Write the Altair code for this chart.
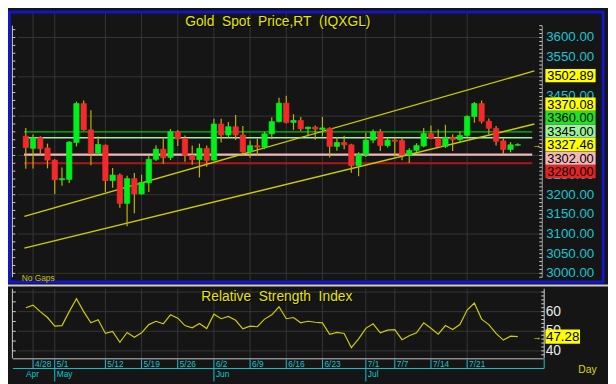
import altair as alt
import pandas as pd

# ------------------------------------------------------------------ data
opens = [3349, 3318, 3345, 3319, 3288, 3238, 3239, 3333, 3432, 3365,
         3306, 3326, 3236, 3250, 3178, 3241, 3202, 3230, 3290, 3316,
         3295, 3360, 3343, 3300, 3289, 3318, 3288, 3380, 3352, 3373,
         3352, 3309, 3325, 3321, 3355, 3386, 3433, 3384, 3389, 3368,
         3372, 3366, 3369, 3323, 3333, 3327, 3274, 3302, 3339, 3360,
         3325, 3339, 3338, 3301, 3313, 3324, 3356, 3343, 3323, 3346,
         3340, 3351, 3399, 3432, 3387, 3369, 3337, 3315, 3326]
highs = [3370, 3353, 3349, 3330, 3290, 3269, 3337, 3437, 3440, 3415,
         3348, 3328, 3268, 3254, 3248, 3255, 3251, 3300, 3326, 3343,
         3367, 3365, 3351, 3325, 3330, 3325, 3393, 3393, 3385, 3403,
         3375, 3338, 3343, 3360, 3397, 3447, 3452, 3405, 3398, 3373,
         3376, 3398, 3372, 3347, 3350, 3330, 3308, 3358, 3366, 3367,
         3344, 3345, 3346, 3318, 3331, 3370, 3376, 3366, 3378, 3354,
         3361, 3402, 3436, 3440, 3394, 3375, 3345, 3334, 3331]
lows = [3266, 3267, 3301, 3267, 3202, 3223, 3230, 3323, 3363, 3275,
        3302, 3207, 3218, 3167, 3120, 3153, 3200, 3207, 3286, 3279,
        3288, 3324, 3284, 3276, 3244, 3271, 3287, 3333, 3344, 3339,
        3303, 3294, 3300, 3316, 3341, 3384, 3381, 3365, 3362, 3348,
        3340, 3348, 3295, 3312, 3316, 3256, 3247, 3296, 3331, 3311,
        3320, 3297, 3288, 3281, 3309, 3321, 3341, 3320, 3319, 3311,
        3332, 3345, 3383, 3381, 3353, 3325, 3304, 3308, 3324]
closes = [3320, 3345, 3317, 3288, 3238, 3241, 3334, 3432, 3365, 3306,
          3328, 3236, 3250, 3178, 3241, 3202, 3231, 3290, 3316, 3294,
          3360, 3342, 3300, 3289, 3318, 3287, 3380, 3352, 3373, 3352,
          3309, 3325, 3321, 3355, 3386, 3433, 3384, 3389, 3368, 3372,
          3367, 3370, 3323, 3333, 3327, 3274, 3302, 3339, 3360, 3325,
          3339, 3336, 3301, 3313, 3325, 3356, 3343, 3323, 3346, 3340,
          3351, 3399, 3432, 3387, 3369, 3336, 3315, 3327, 3327.46]
rsi_values = [62.0, 63.3, 60.0, 57.0, 52.6, 52.9, 60.0, 66.6, 60.0, 54.3,
              55.9, 48.9, 49.9, 44.4, 49.4, 46.9, 49.2, 53.4, 55.1, 53.8,
              58.4, 56.7, 52.9, 51.8, 54.0, 51.4, 58.7, 56.4, 57.6, 55.6,
              51.2, 52.6, 52.3, 56.2, 58.4, 62.5, 56.4, 57.0, 54.3, 55.1,
              54.6, 54.3, 48.5, 49.4, 48.9, 41.6, 46.1, 51.5, 53.8, 49.2,
              50.6, 50.8, 45.7, 47.7, 49.2, 54.3, 51.5, 48.5, 52.9, 50.9,
              53.4, 60.8, 64.4, 56.2, 53.4, 48.9, 45.5, 47.5, 47.28]

date_tick_index = [1, 4, 11, 16, 21, 26, 31, 36, 41, 47, 51, 56, 61]
date_tick_labels = ["4/28", "5/1", "5/12", "5/19", "5/26", "6/2", "6/9",
                    "6/16", "6/23", "7/1", "7/7", "7/14", "7/21"]
month_line_index = [4, 26, 47]
month_label_index = [-0.25, 4, 26, 47]
month_labels = ["Apr", "May", "Jun", "Jul"]

level_values = [3360.00, 3345.00, 3302.00, 3280.00]
level_span = [-0.25, 70.0]
trend_index = [-0.2, 70.3]
trend_upper = [3145, 3515]
trend_lower = [3064, 3380]
marker_values = [3502.89, 3370.08, 3360.00, 3345.00, 3327.46, 3302.00, 3280.00]
rsi_last = 47.28

# price tick labels visible in the reference (others sit fully under value markers)
price_label_values = [3000, 3050, 3100, 3150, 3200, 3250, 3450, 3550, 3600]
price_grid_values = [3000, 3100, 3200, 3300, 3400, 3500, 3600]
rsi_label_values = [40, 50, 60]
rsi_grid_values = [40, 50, 60, 70]

# ------------------------------------------------------------------ styles
SX, SY = 608 / 616, 376 / 384


def px(v):
    return round(v * SX, 2)


def py(v):
    return round(v * SY, 2)


FONT = "Liberation Sans"
BG = "#151515"
GRID = "#363636"
CYAN = "#18c4d0"
YEL = "#e6e600"
LINE_Y = "#cccc00"
UP = "#00f01c"
DOWN = "#f42a2a"
WICK = "#c2b000"
TICK = "#d0d0d0"
level_colors = ["#00c400", "#a4eea4", "#efb6b6", "#b01616"]
level_widths = [1.3, 1.3, 2.2, 2.2]
marker_fill = ["#ffff00", "#ffff00", "#22e022", "#9cf09c", "#ffff00", "#f2b8b8", "#e42424"]

xs = alt.Scale(domain=[-0.5, 70.5], range=[px(9.5), px(547.0)], nice=False, zero=False)
ps = alt.Scale(domain=[2985.3, 3634.4], range=[py(278), py(14)], nice=False, zero=False)
rs = alt.Scale(domain=[36.2, 71.67], range=[py(360), py(288)], nice=False, zero=False)


def X(f):
    return alt.X(f, type="quantitative", scale=xs, axis=None)


def PY(f):
    return alt.Y(f, type="quantitative", scale=ps, axis=None)


def RY(f):
    return alt.Y(f, type="quantitative", scale=rs, axis=None)


def text_layer(text, x, y, size, color, align="center", dx=0, dy=0):
    return alt.Chart(pd.DataFrame({"t": [text]})).mark_text(
        align=align, baseline="middle", font=FONT, fontSize=size, color=color, dx=dx, dy=dy
    ).encode(x=alt.value(x), y=alt.value(y), text="t:N")


# ------------------------------------------------------------------ price panel
n = len(closes)
cdf = pd.DataFrame({"i": list(range(n)), "o": opens, "h": highs, "l": lows, "c": closes})
cdf["top"] = cdf[["o", "c"]].max(axis=1)
cdf["bot"] = cdf[["o", "c"]].min(axis=1)
cdf["col"] = [UP if c >= o else DOWN for o, c in zip(opens, closes)]

vgrid_p = alt.Chart(pd.DataFrame({"i": date_tick_index})).mark_rule(color=GRID, strokeWidth=1).encode(
    x=X("i"), y=alt.value(py(3)), y2=alt.value(py(279)))
hgrid_p = alt.Chart(pd.DataFrame({"p": price_grid_values})).mark_rule(color=GRID, strokeWidth=1).encode(
    y=PY("p"), x=alt.value(px(10)), x2=alt.value(px(548)))

minor_prices = [2990 + 10 * k for k in range(65)]
rticks_p = alt.Chart(pd.DataFrame({"p": minor_prices})).mark_rule(color=TICK, strokeWidth=1).encode(
    y=PY("p"), x=alt.value(px(545.5)), x2=alt.value(px(548.5)))
rline_p = alt.Chart(pd.DataFrame({"p": [2990.0], "q": [3630.0]})).mark_rule(color="#9a9a9a", strokeWidth=1).encode(
    y=PY("p"), y2="q", x=alt.value(px(548.5)))
left_prices = [3000 + 20 * k for k in range(32)]
lticks_p = alt.Chart(pd.DataFrame({"p": left_prices})).mark_rule(color=TICK, strokeWidth=1).encode(
    y=PY("p"), x=alt.value(px(4.5)), x2=alt.value(px(7.5)))
lline_p = alt.Chart(pd.DataFrame({"p": [2990.0], "q": [3630.0]})).mark_rule(color=TICK, strokeWidth=1).encode(
    y=PY("p"), y2="q", x=alt.value(px(4.5)))
plabels = alt.Chart(pd.DataFrame({"p": price_label_values,
                                  "t": [f"{v:.2f}" for v in price_label_values]})).mark_text(
    align="left", baseline="middle", font=FONT, fontSize=13.5, color=CYAN).encode(
    y=PY("p"), x=alt.value(px(552.5)), text="t:N")

ldf = pd.DataFrame({"p": level_values, "x0": level_span[0], "x1": level_span[1],
                    "col": level_colors, "w": level_widths})
levels = alt.Chart(ldf).mark_rule().encode(
    y=PY("p"), x=X("x0"), x2="x1",
    color=alt.Color("col:N", scale=None), strokeWidth=alt.StrokeWidth("w:Q", scale=None))

tdf = pd.DataFrame({"i": trend_index + trend_index, "v": trend_upper + trend_lower,
                    "k": ["a", "a", "b", "b"]})
trends = alt.Chart(tdf).mark_line(color=LINE_Y, strokeWidth=1.4).encode(
    x=X("i"), y=PY("v"), detail="k:N")

wicks = alt.Chart(cdf).mark_rule(color=WICK, strokeWidth=1.2).encode(x=X("i"), y=PY("l"), y2="h")
bodies = alt.Chart(cdf).mark_bar(width=5.4, strokeWidth=0.7).encode(
    x=X("i"), y=PY("bot"), y2="top",
    color=alt.Color("col:N", scale=None), stroke=alt.Stroke("col:N", scale=None))

# stacked value markers on the right: current price stays, others pushed apart
anchor = closes[-1]
gap = 34.4
disp = {anchor: anchor}
prev = anchor
for v in sorted([v for v in marker_values if v > anchor]):
    prev = max(v, prev + gap)
    disp[v] = prev
prev = anchor
for v in sorted([v for v in marker_values if v < anchor], reverse=True):
    prev = min(v, prev - gap)
    disp[v] = prev
half = 16.9
mdf = pd.DataFrame({"v": marker_values, "bg": marker_fill})
mdf["d"] = [disp[v] for v in marker_values]
mdf["y0"] = mdf["d"] - half
mdf["y1"] = mdf["d"] + half
mdf["txt"] = [f"{v:.2f}" for v in marker_values]
mrect = alt.Chart(mdf).mark_rect().encode(
    x=alt.value(px(551.7)), x2=alt.value(px(603.3)), y=PY("y0"), y2="y1",
    color=alt.Color("bg:N", scale=None))
mtext = alt.Chart(mdf).mark_text(align="center", baseline="middle", font=FONT, fontSize=13,
                                 color="#000000", dy=0.5).encode(
    x=alt.value(px(577.5)), y=PY("d"), text="txt:N")
parrow = alt.Chart(pd.DataFrame({"v": [anchor], "t": ["\u2192"]})).mark_text(
    align="center", baseline="middle", font=FONT, fontSize=9, color=YEL).encode(
    x=alt.value(px(543)), y=PY("v"), text="t:N")

price_layer = alt.layer(vgrid_p, hgrid_p, rticks_p, rline_p, lticks_p, lline_p, plabels, levels, trends,
                        wicks, bodies, mrect, mtext, parrow)

# ------------------------------------------------------------------ RSI panel
rdf = pd.DataFrame({"i": list(range(n)), "r": rsi_values})
vgrid_r = alt.Chart(pd.DataFrame({"i": date_tick_index})).mark_rule(color=GRID, strokeWidth=1).encode(
    x=X("i"), y=alt.value(py(288)), y2=alt.value(py(360)))
hgrid_r = alt.Chart(pd.DataFrame({"r": rsi_grid_values})).mark_rule(color=GRID, strokeWidth=1).encode(
    y=RY("r"), x=alt.value(px(10)), x2=alt.value(px(548)))
rminor = [38 + 2 * k for k in range(17)]
rticks_r = alt.Chart(pd.DataFrame({"r": rminor})).mark_rule(color=TICK, strokeWidth=1).encode(
    y=RY("r"), x=alt.value(px(547.5)), x2=alt.value(px(550.5)))
rline_r = alt.Chart(pd.DataFrame({"r": [36.2], "q": [71.67]})).mark_rule(color=TICK, strokeWidth=1).encode(
    y=RY("r"), y2="q", x=alt.value(px(550.5)))
lminor = [40 + 5 * k for k in range(7)]
lticks_r = alt.Chart(pd.DataFrame({"r": lminor})).mark_rule(color=TICK, strokeWidth=1).encode(
    y=RY("r"), x=alt.value(px(4.5)), x2=alt.value(px(8)))
lline_r = alt.Chart(pd.DataFrame({"r": [36.2], "q": [71.67]})).mark_rule(color=TICK, strokeWidth=1).encode(
    y=RY("r"), y2="q", x=alt.value(px(4.5)))
rlabels = alt.Chart(pd.DataFrame({"r": rsi_label_values,
                                  "t": [str(v) for v in rsi_label_values]})).mark_text(
    align="left", baseline="middle", font=FONT, fontSize=14, color="#e8e8e8").encode(
    y=RY("r"), x=alt.value(px(552)), text="t:N")
rsi_line = alt.Chart(rdf).mark_line(color=LINE_Y, strokeWidth=1.2).encode(
    x=X("i"), y=RY("r"))
rbox_df = pd.DataFrame({"r": [rsi_last], "r0": [rsi_last - 3.6], "r1": [rsi_last + 3.6],
                        "t": [f"{rsi_last:.2f}"], "a": ["\u2192"]})
rbox = alt.Chart(rbox_df).mark_rect(color="#ffff00").encode(
    x=alt.value(px(551.7)), x2=alt.value(px(587.3)), y=RY("r0"), y2="r1")
rtext = alt.Chart(rbox_df).mark_text(align="center", baseline="middle", font=FONT, fontSize=13.5,
                                     color="#000000", dy=0.5).encode(
    x=alt.value(px(569.5)), y=RY("r"), text="t:N")
rarrow = alt.Chart(rbox_df).mark_text(align="center", baseline="middle", font=FONT, fontSize=9,
                                      color=YEL).encode(
    x=alt.value(px(543)), y=RY("r"), text="a:N")

rsi_layer = alt.layer(vgrid_r, hgrid_r, rticks_r, rline_r, lticks_r, lline_r, rlabels, rsi_line,
                      rbox, rtext, rarrow)

# ------------------------------------------------------------------ frames, titles, date axis
frame = alt.Chart(pd.DataFrame({"k": [0]})).mark_rect(
    fillOpacity=0, stroke="#1414c8", strokeWidth=3).encode(
    x=alt.value(px(1.5)), x2=alt.value(px(611)), y=alt.value(py(1.5)), y2=alt.value(py(281)))
sep = alt.Chart(pd.DataFrame({"k": [0]})).mark_rule(color="#cdcdcd", strokeWidth=2.2).encode(
    y=alt.value(py(284.6)), x=alt.value(0), x2=alt.value(608))

gold_title = "Gold\u00a0 Spot\u00a0 Price,RT\u00a0 (IQXGL)"
rsi_title = "Relative\u00a0 Strength\u00a0 Index"
t1s = text_layer(gold_title, px(277), py(12), 14, "#000000", dx=1, dy=1)
t1 = text_layer(gold_title, px(277), py(12), 14, YEL)
t2s = text_layer(rsi_title, px(276), py(297), 14, "#000000", dx=1, dy=1)
t2 = text_layer(rsi_title, px(276), py(297), 14, YEL)
nogaps = text_layer("No Gaps", px(14), py(276.5), 8.5, "#c4c400", align="left")
day = text_layer("Day", px(595), py(372), 10.5, "#d8d800")

rsi_bottom = alt.Chart(pd.DataFrame({"k": [0]})).mark_rule(color="#c8c8c8", strokeWidth=1).encode(
    y=alt.value(py(360.5)), x=alt.value(px(5)), x2=alt.value(px(550)))
date_ticks = alt.Chart(pd.DataFrame({"i": date_tick_index})).mark_rule(color=CYAN, strokeWidth=1).encode(
    x=X("i"), y=alt.value(py(361)), y2=alt.value(py(370.5)))
date_text = alt.Chart(pd.DataFrame({"i": date_tick_index, "t": date_tick_labels})).mark_text(
    align="left", baseline="middle", dx=2, font=FONT, fontSize=8.5, color=CYAN).encode(
    x=X("i"), y=alt.value(py(366.3)), text="t:N")
date_base = alt.Chart(pd.DataFrame({"k": [0]})).mark_rule(color=CYAN, strokeWidth=1).encode(
    y=alt.value(py(370.5)), x=alt.value(px(5)), x2=alt.value(px(550.5)))
date_end = alt.Chart(pd.DataFrame({"k": [0]})).mark_rule(color=CYAN, strokeWidth=1).encode(
    x=alt.value(px(550.5)), y=alt.value(py(360.5)), y2=alt.value(py(370.5)))
month_ticks = alt.Chart(pd.DataFrame({"i": month_line_index})).mark_rule(color=CYAN, strokeWidth=1).encode(
    x=X("i"), y=alt.value(py(370.5)), y2=alt.value(py(384)))
month_text = alt.Chart(pd.DataFrame({"i": month_label_index, "t": month_labels})).mark_text(
    align="left", baseline="middle", dx=2, font=FONT, fontSize=8.5, color=CYAN).encode(
    x=X("i"), y=alt.value(py(376)), text="t:N")

chart = alt.layer(
    price_layer, rsi_layer,
    frame, sep, t1s, t1, t2s, t2, nogaps, day,
    rsi_bottom, date_ticks, date_text, date_base, date_end, month_ticks, month_text,
).resolve_scale(y="independent").properties(
    width=608, height=376, autosize=alt.AutoSizeParams(type="none"), padding=0, background=BG
).configure_view(strokeWidth=0)

chart.save("out.html", embed_options={"renderer": "svg", "actions": False})
